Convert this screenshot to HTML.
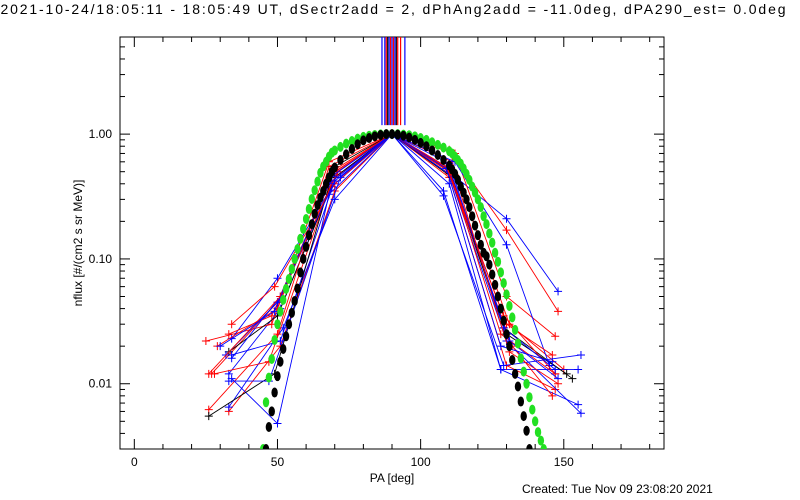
<!DOCTYPE html>
<html><head><meta charset="utf-8"><style>
body{margin:0;background:#fff}
svg{display:block;font-family:"Liberation Sans",sans-serif}
</style></head><body>
<svg id="c" width="800" height="500" xmlns="http://www.w3.org/2000/svg">
<rect width="800" height="500" fill="#fff"/>
<text x="393" y="14" font-size="14" text-anchor="middle" textLength="785">2021-10-24/18:05:11 - 18:05:49 UT, dSectr2add = 2, dPhAng2add = -11.0deg, dPA290_est=  0.0deg</text>
<g id="plot"></g>
<text x="392" y="482" font-size="12" text-anchor="middle">PA [deg]</text>
<text transform="translate(82,243) rotate(-90)" font-size="12" text-anchor="middle">nflux [#/(cm2 s sr MeV)]</text>
<text x="522" y="493" font-size="12">Created: Tue Nov 09 23:08:20 2021</text>
</svg>
<script>
const xTicks=[0,50,100,150];
const yTicks=[1,0.1,0.01];
const yTickLabels=["1.00","0.10","0.01"];
const greenPA=[45,46,47,48,49,50,51,52,53,54,55,56,57,58,59,60,61,62,63,64,65,66,67,68,69,70,72,74,76,78,80,82,84,86,88,90,92,94,96,98,100,102,104,106,108,110,111,112,113,114,115,116,117,118,119,120,121,122,123,124,125,126,127,128,129,130,131,132,133,134,135,136,137,138,139,140,141,142,143];
const greenFlux=[.003,.0071,.0112,.0158,.0224,.030,.038,.047,.0575,.069,.083,.1,.12,.145,.174,.209,.251,.302,.355,.417,.49,.55,.60,.66,.71,.74,.79,.84,.88,.92,.95,.97,.985,.995,1,1,1,.99,.98,.96,.93,.9,.86,.82,.78,.73,.7,.66,.62,.58,.53,.48,.43,.38,.34,.3,.26,.22,.19,.16,.135,.112,.095,.078,.064,.052,.042,.034,.027,.021,.016,.0125,.01,.0078,.0062,.005,.0041,.0035,.003];
const blackPA=[46,47,48,49,50,51,52,53,54,55,56,57,58,59,60,61,62,63,64,65,66,67,68,69,70,72,74,76,78,80,82,84,86,88,90,92,94,96,98,100,102,104,106,108,110,111,112,113,114,115,116,117,118,119,120,121,122,123,124,125,126,127,128,129,130,131,132,133,134,135,136,137,138];
const blackFlux=[.003,.0045,.006,.0085,.0115,.015,.019,.024,.03,.037,.046,.058,.078,.1,.125,.155,.19,.23,.27,.31,.35,.4,.45,.5,.54,.62,.69,.76,.83,.89,.93,.96,.985,1,1,.99,.97,.94,.9,.85,.8,.74,.68,.62,.56,.52,.48,.43,.38,.34,.3,.26,.22,.185,.155,.13,.112,.105,.09,.075,.062,.05,.04,.032,.025,.02,.0155,.012,.0095,.0072,.0055,.0042,.003];
const seriesColors=["red","blue","red","blue","red","blue","black","red","blue","red","blue","red","black","blue","red","blue","red","blue","red","blue"];
const seriesPA=[
[27,50,70,90,110,130,148],[33,51,70,90,110,130,148],[25,48,68,90,111,131,150],[34,50,69,90,108,128,155],
[33,51,70,90,110,130,147],[33,52,70,90,109,130,156],[33,50,70,90,110,129,153],[26,50,68,90,112,130,147],
[34,50,68,90,110,128,155],[34,49,70,90,110,128,147],[34,51,71,90,108,129,156],[28,47,69,90,110,132,146],
[26,49,70,90,111,130,151],[33,47,72,90,112,130,145],
[29,50,69,90,109,129,147],[34,51,70,90,111,131,148],[33,48,71,90,110,130,146],[32,50,68,90,110,129,147],
[26,51,70,90,112,131,148],[30,49,69,90,109,128,146]];
const seriesFlux=[
[.012,.045,.5,1,.75,.17,.038],[.012,.04,.45,1,.5,.21,.055],[.022,.03,.6,1,.6,.03,.013],[.023,.07,.38,1,.35,.013,.013],
[.006,.02,.35,1,.45,.014,.009],[.0065,.028,.3,1,.55,.022,.0058],[.018,.035,.45,1,.5,.028,.011],[.0062,.025,.55,1,.7,.05,.024],
[.011,.0048,.33,1,.4,.013,.0068],[.03,.06,.4,1,.52,.025,.012],[.017,.022,.5,1,.32,.014,.017],[.012,.015,.42,1,.48,.02,.008],
[.0055,.012,.55,1,.45,.025,.012],[.0105,.0105,.45,1,.6,.13,.014],
[.02,.04,.48,1,.55,.035,.012],[.016,.05,.42,1,.46,.022,.011],[.025,.035,.5,1,.5,.03,.017],[.017,.045,.4,1,.58,.028,.013],
[.012,.05,.52,1,.47,.018,.01],[.02,.038,.46,1,.53,.02,.015]];
const peakPA=[86.5,87.5,88,88.5,89,89.5,90,90.5,91,91.5,92,93,94.5];
const peakColors=["blue","blue","red","black","blue","red","blue","red","blue","black","red","red","blue"];

const L=120,R=664,T=37,B=449,X0=-5,X1=185,YMIN=0.003,YMAX=6;
const xs=v=>L+(v-X0)/(X1-X0)*(R-L);
const ys=v=>B-(Math.log10(v)-Math.log10(YMIN))/(Math.log10(YMAX)-Math.log10(YMIN))*(B-T);
const NS="http://www.w3.org/2000/svg";
const g=document.getElementById('plot');
function mk(t,a){const e=document.createElementNS(NS,t);for(const k in a)e.setAttribute(k,a[k]);g.appendChild(e);return e;}
const defs=mk('defs',{});
const cp=document.createElementNS(NS,'clipPath');cp.setAttribute('id','cl');
const cr=document.createElementNS(NS,'rect');cr.setAttribute('x',L);cr.setAttribute('y',T);cr.setAttribute('width',R-L);cr.setAttribute('height',B-T);
cp.appendChild(cr);defs.appendChild(cp);
let e=mk('rect',{x:L,y:T,width:R-L,height:B-T,fill:'none',stroke:'#000','stroke-width':1});


for(let v=0;v<=180;v+=10){const big=v%50===0;const x=xs(v);
 e=mk('line',{x1:x,x2:x,y1:B,y2:B-(big?10:5),stroke:'#000'});
 
 
 e=mk('line',{x1:x,x2:x,y1:T,y2:T+(big?10:5),stroke:'#000'});
 
 }
xTicks.forEach(v=>{e=mk('text',{x:xs(v),y:466,'font-size':12,'text-anchor':'middle'});e.textContent=v;
 
 });
for(let d=-3;d<=0;d++)for(let m=1;m<10;m++){const v=m*Math.pow(10,d);if(v<YMIN||v>YMAX)continue;const y=ys(v);const big=m===1;
 e=mk('line',{x1:L,x2:L+(big?10:5),y1:y,y2:y,stroke:'#000'});
 
 
 e=mk('line',{x1:R,x2:R-(big?10:5),y1:y,y2:y,stroke:'#000'});
 
 }
yTicks.forEach((v,i)=>{e=mk('text',{x:112,y:ys(v)+4,'font-size':12,'text-anchor':'end'});e.textContent=yTickLabels[i];
 
 });
const pg=mk('g',{'clip-path':'url(#cl)'});
function add(t,a){const el=document.createElementNS(NS,t);for(const k in a)el.setAttribute(k,a[k]);pg.appendChild(el);return el;}
peakPA.forEach((p,i)=>{e=add('line',{x1:xs(p),x2:xs(p),y1:T,y2:ys(1.18),stroke:peakColors[i],'stroke-width':1.2});
 
 });
seriesPA.forEach((pa,i)=>{const c=seriesColors[i];
 e=add('polyline',{points:pa.map((p,j)=>xs(p)+','+ys(seriesFlux[i][j])).join(' '),fill:'none',stroke:c,'stroke-width':0.9});
 
 
 pa.forEach((p,j)=>{const x=xs(p),y=ys(seriesFlux[i][j]);
  e=add('path',{d:`M${x-4},${y}H${x+4}M${x},${y-4}V${y+4}`,stroke:c,'stroke-width':1});
  
  });});
greenPA.forEach((p,i)=>{e=add('ellipse',{cx:xs(p),cy:ys(greenFlux[i]),rx:3.2,ry:5,fill:'#22e022'});
 
 });
blackPA.forEach((p,i)=>{e=add('ellipse',{cx:xs(p),cy:ys(blackFlux[i]),rx:3.2,ry:5,fill:'#000'});
 
 });
</script>
</body></html>
